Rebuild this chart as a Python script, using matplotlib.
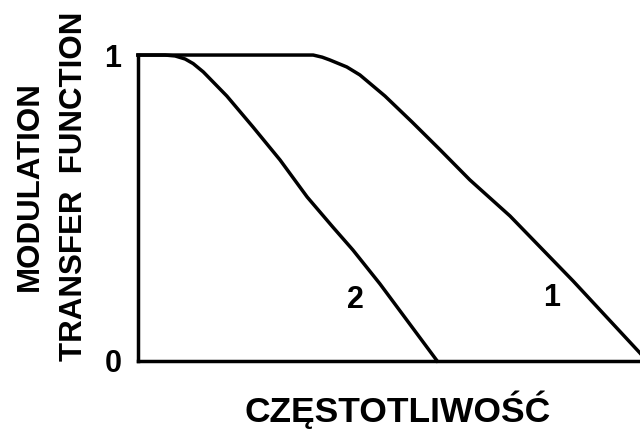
import matplotlib
matplotlib.use("Agg")
import matplotlib.pyplot as plt

plt.rcParams['font.family'] = ['Liberation Sans', 'DejaVu Sans']

# Normalised frequency (x) and MTF value (y) for both curves
curve1_x = [0.0, 0.323, 0.349, 0.367, 0.382, 0.416, 0.442, 0.492, 0.546,
            0.602, 0.661, 0.741, 0.867, 1.0, 1.014]
curve1_y = [1.0, 1.0, 1.0, 0.993, 0.984, 0.961, 0.935, 0.866, 0.781,
            0.690, 0.592, 0.474, 0.261, 0.026, 0.0]

curve2_x = [0.0, 0.054, 0.074, 0.094, 0.110, 0.130, 0.177, 0.229, 0.283,
            0.337, 0.388, 0.428, 0.482, 0.596]
curve2_y = [1.0, 1.0, 0.997, 0.987, 0.972, 0.945, 0.866, 0.765, 0.657,
            0.536, 0.438, 0.363, 0.252, 0.0]

curve_labels = ["1", "2"]
label_pos_x = [0.823, 0.434]
label_pos_y = [0.206, 0.20]

y_ticks = [0, 1]
y_tick_labels = ["0", "1"]

fig = plt.figure(figsize=(6.4, 4.3), dpi=100)
ax = fig.add_axes([0.2156, 0.1605, 0.7844, 0.7115])

lw = 2.5
ax.plot(curve1_x, curve1_y, color='black', lw=lw, clip_on=False,
        solid_joinstyle='round')
ax.plot(curve2_x, curve2_y, color='black', lw=lw, clip_on=False,
        solid_joinstyle='round')

for t, x, y in zip(curve_labels, label_pos_x, label_pos_y):
    ax.text(x, y, t, fontsize=22, fontweight='bold', ha='center', va='center')

ax.set_xlim(0, 1)
ax.set_ylim(0, 1)
ax.set_xticks([])
ax.set_yticks(y_ticks)
ax.set_yticklabels(y_tick_labels, fontsize=22, fontweight='bold')
ax.tick_params(axis='y', length=0, pad=12)

for side in ['top', 'right']:
    ax.spines[side].set_visible(False)
for side in ['left', 'bottom']:
    ax.spines[side].set_linewidth(lw)
    ax.spines[side].set_capstyle('projecting')

fig.text(30 / 640, 1 - 186 / 430, "MODULATION", rotation=90, fontsize=22.5,
         fontweight='bold', ha='center', va='center')
fig.text(74 / 640, 1 - 186 / 430, "TRANSFER  FUNCTION", rotation=90,
         fontsize=22.5, fontweight='bold', ha='center', va='center')
fig.text(398 / 640, 1 - 422 / 430, "CZĘSTOTLIWOŚĆ", fontsize=25.5,
         fontweight='bold', ha='center', va='baseline')

fig.savefig("out.png", dpi=100, facecolor='white')
